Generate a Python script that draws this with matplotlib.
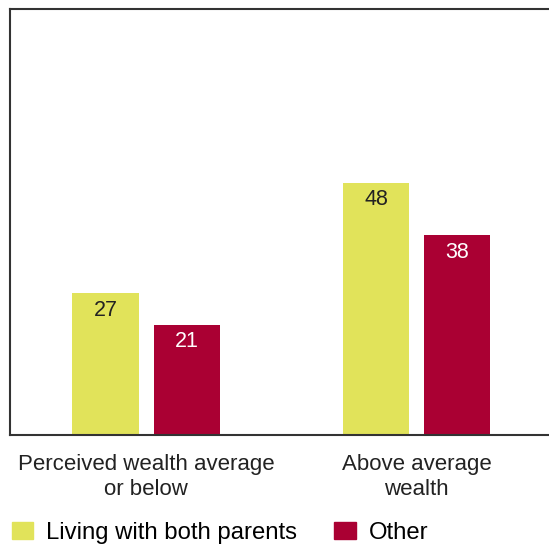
import numpy as np
import matplotlib.pyplot as plt
from matplotlib.patches import Patch

plt.rcParams['font.family'] = ['Liberation Sans', 'DejaVu Sans']

groups = ['Perceived wealth average\nor below', 'Above average\nwealth']
both_parents = [27, 48]
other = [21, 38]
series_names = ['Living with both parents', 'Other']

yellow = '#e1e35a'
red = '#aa0033'

fig = plt.figure(figsize=(5.49, 5.44), dpi=100)
ax = fig.add_axes([10/549, 109/544, 550/549, 426/544])

x = np.arange(len(groups))
w = 0.244
b1 = ax.bar(x - 0.15, both_parents, w, color=yellow)
b2 = ax.bar(x + 0.15, other, w, color=red)

# value written just under the top of each bar
for bars, vals, tc in [(b1, both_parents, '#222222'), (b2, other, 'white')]:
    for r, v in zip(bars, vals):
        ax.text(r.get_x() + r.get_width()/2, v - 3.3, str(v), ha='center', va='center',
                fontsize=15.5, color=tc)

ax.set_xlim(-0.503, 1.53)
ax.set_ylim(0, 81)
ax.set_yticks([])
ax.set_xticks(x)
ax.set_xticklabels(groups, fontsize=16, color='#222222', linespacing=1.25)
ax.tick_params(axis='x', length=0, pad=14)
for s in ax.spines.values():
    s.set_linewidth(1.5)
    s.set_color('#333333')

handles = [Patch(color=yellow), Patch(color=red)]
fig.legend(handles, series_names, loc='lower left', bbox_to_anchor=(0.0, -0.022), ncol=2,
           frameon=False, fontsize=17.2, handlelength=0.89, handleheight=0.68,
           handletextpad=0.55, columnspacing=1.55, borderaxespad=0.2, borderpad=0.3)

fig.savefig('out.png', dpi=100)
